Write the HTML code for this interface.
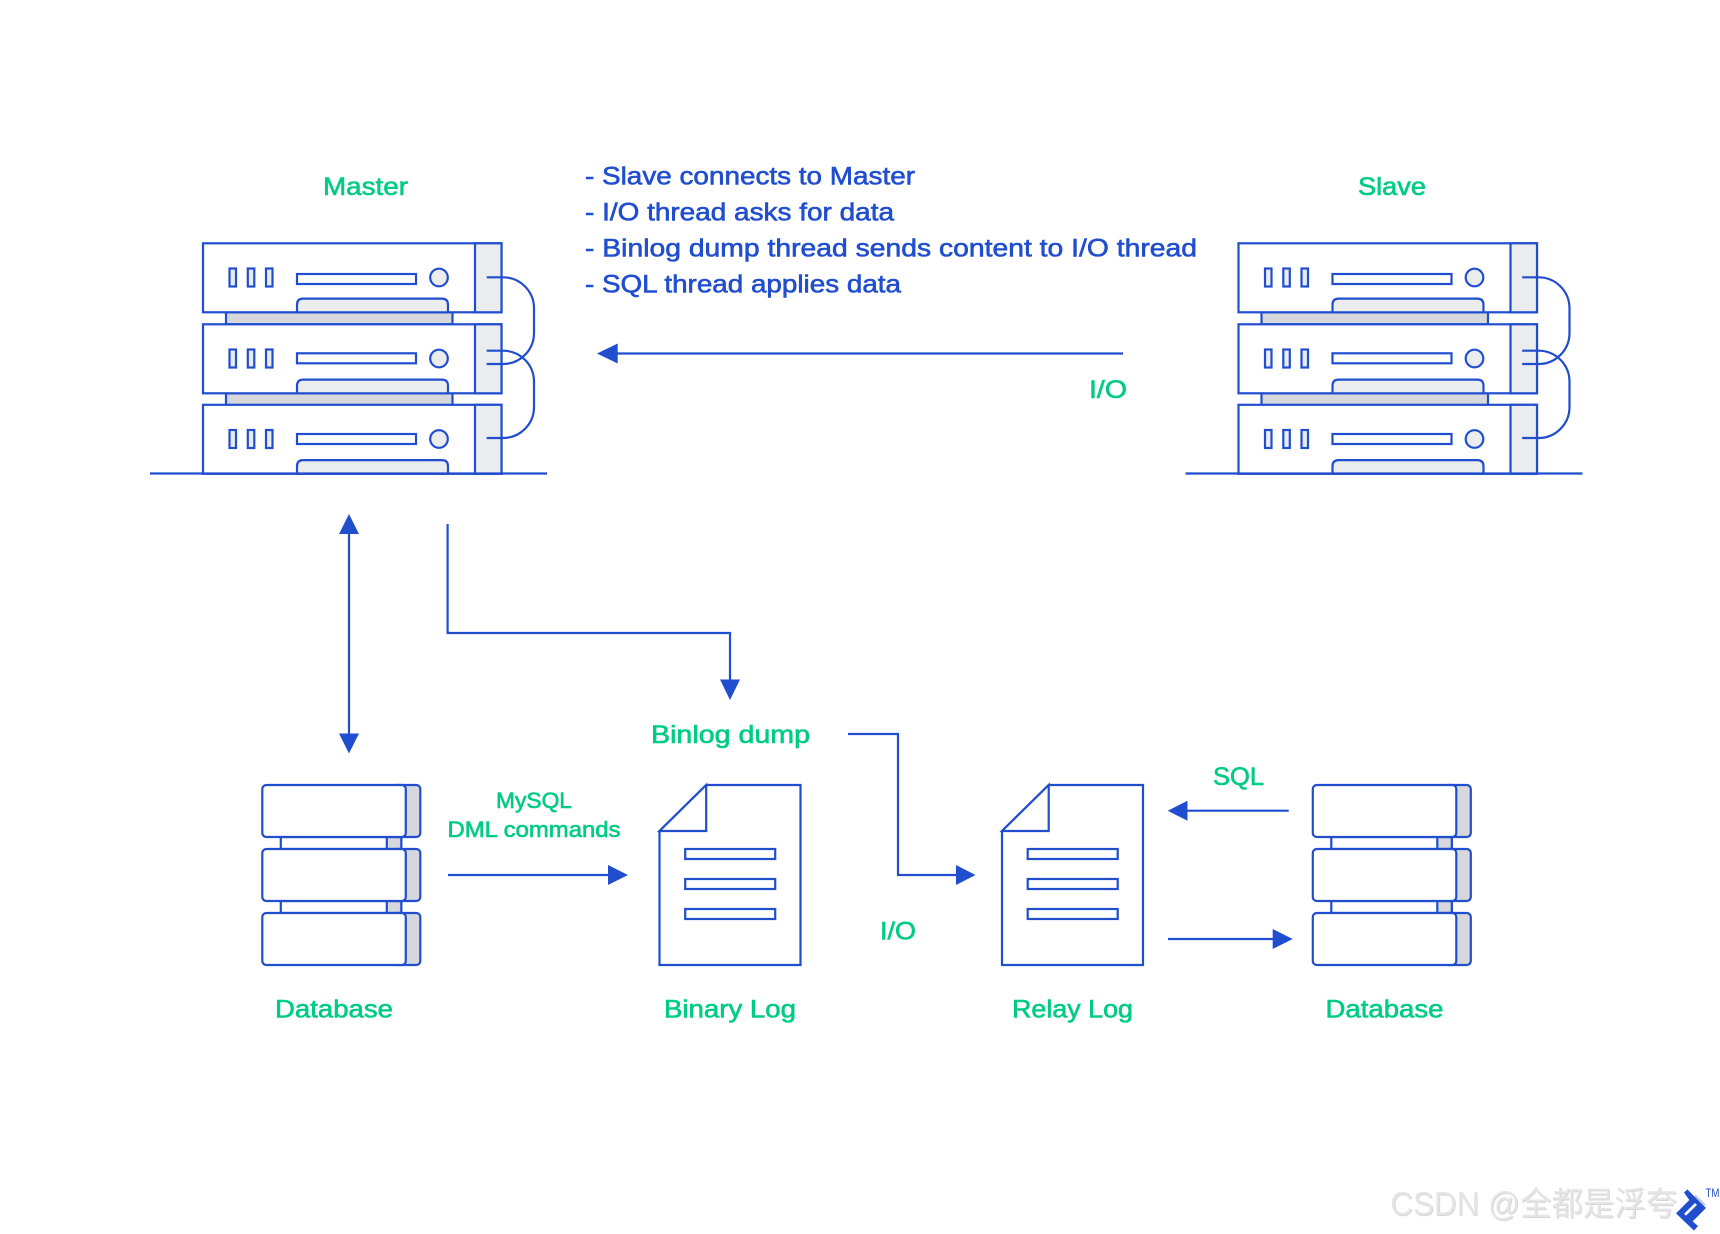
<!DOCTYPE html>
<html><head><meta charset="utf-8"><style>
html,body{margin:0;padding:0;background:#fff}
svg{display:block}
.l{fill:none;stroke:#204ecf;stroke-width:2.2}
.a{fill:#204ecf}
text{font-family:"Liberation Sans","Noto Sans CJK SC",sans-serif}
.g{fill:#00cc83;stroke:#00cc83;stroke-width:.6;font-size:25px}
.b{fill:#204ecf;stroke:#204ecf;stroke-width:.6;font-size:25px}
</style></head><body>
<svg width="1720" height="1234" viewBox="0 0 1720 1234" xmlns="http://www.w3.org/2000/svg">
<rect width="1720" height="1234" fill="#fff"/>
<defs>
<g id="srv">
<rect x="0" y="0" width="298.5" height="69" fill="#fff" class="l" style="fill:#fff"/>
<rect x="272" y="0" width="26.5" height="69" class="l" style="fill:#ebecee"/>
<rect x="26.5" y="25.2" width="6.5" height="18" class="l" style="fill:#ebecee"/>
<rect x="44.8" y="25.2" width="6.5" height="18" class="l" style="fill:#ebecee"/>
<rect x="63" y="25.2" width="6.5" height="18" class="l" style="fill:#ebecee"/>
<circle cx="236" cy="34.2" r="8.8" class="l" style="fill:#ebecee"/>
<path d="M94 69V61.5Q94 55.3 100 55.3H239Q245 55.3 245 61.5V69Z" class="l" style="fill:#ebecee"/>
</g>
<g id="rack">
<rect x="23" y="69" width="226.5" height="12" class="l" style="fill:#d6d8dc"/>
<rect x="23" y="150" width="226.5" height="12" class="l" style="fill:#d6d8dc"/>
<use href="#srv"/>
<use href="#srv" y="81"/>
<use href="#srv" y="161.5"/>
<rect x="94" y="30.7" width="119" height="10" class="l" style="fill:#fff"/>
<rect x="94" y="110" width="119" height="10" class="l" style="fill:#fff"/>
<rect x="94" y="190.7" width="119" height="10" class="l" style="fill:#fff"/>
<path d="M-53 230.2H344" class="l"/>
<path d="M283.7 34H300A31 31 0 0 1 331 65V89.7A31 31 0 0 1 300 120.7H283.7" class="l"/>
<path d="M283.7 107.4H300A31 31 0 0 1 331 138.4V163.7A31 31 0 0 1 300 194.7H283.7" class="l"/>
</g>
<g id="db">
<rect x="18.5" y="52" width="120.5" height="12" class="l" style="fill:#fff"/>
<rect x="124.5" y="52" width="14.5" height="12" class="l" style="fill:#d6d8dc"/>
<rect x="18.5" y="116" width="120.5" height="12" class="l" style="fill:#fff"/>
<rect x="124.5" y="116" width="14.5" height="12" class="l" style="fill:#d6d8dc"/>
<g id="dbu">
<rect x="130" y="0" width="28" height="52" rx="4" class="l" style="fill:#d6d8dc"/>
<rect x="0" y="0" width="143.5" height="52" rx="4" class="l" style="fill:#fff"/>
</g>
<use href="#dbu" y="64"/>
<use href="#dbu" y="128"/>
</g>
<g id="doc">
<path d="M46.7 0H141V180H0V46Z" class="l" style="fill:#fff"/>
<path d="M46.7 0V46H0Z" class="l" style="fill:#fff"/>
<rect x="25.7" y="64" width="90" height="10" class="l" style="fill:#fff"/>
<rect x="25.7" y="94" width="90" height="10" class="l" style="fill:#fff"/>
<rect x="25.7" y="124" width="90" height="10" class="l" style="fill:#fff"/>
</g>
</defs>

<use href="#rack" x="203" y="243.3"/>
<use href="#rack" x="1238.5" y="243.3"/>

<use href="#db" x="262.3" y="785"/>
<use href="#db" x="1312.8" y="785"/>
<use href="#doc" x="659.5" y="785"/>
<use href="#doc" x="1002" y="785"/>

<!-- connectors -->
<path d="M1123 353.5H612" class="l"/><path d="M597 353.5L617.7 343.5V363.5Z" class="a"/>
<path d="M349 530V738" class="l"/><path d="M349 514L339 534H359Z" class="a"/><path d="M349 753.5L339 733.5H359Z" class="a"/>
<path d="M447.6 524V633H730V685" class="l"/><path d="M730 700L720 679.5H740Z" class="a"/>
<path d="M848 734H898V875H960" class="l"/><path d="M975.5 875L956 865V885Z" class="a"/>
<path d="M448 875H612" class="l"/><path d="M628 875L608 865V885Z" class="a"/>
<path d="M1288.7 810.7H1183" class="l"/><path d="M1167.7 810.7L1187.5 800.7V820.7Z" class="a"/>
<path d="M1168 939H1277" class="l"/><path d="M1292.7 939L1272.7 929V949Z" class="a"/>

<!-- labels -->
<text class="g" x="323" y="195" textLength="85" lengthAdjust="spacingAndGlyphs">Master</text>
<text class="g" x="1358" y="195" textLength="68" lengthAdjust="spacingAndGlyphs">Slave</text>
<text class="g" x="1089" y="398" textLength="38" lengthAdjust="spacingAndGlyphs">I/O</text>
<text class="g" x="651" y="743" textLength="159" lengthAdjust="spacingAndGlyphs">Binlog dump</text>
<text class="g" x="275" y="1017.5" textLength="118" lengthAdjust="spacingAndGlyphs">Database</text>
<text class="g" x="664" y="1017.5" textLength="132" lengthAdjust="spacingAndGlyphs">Binary Log</text>
<text class="g" x="880" y="939.3" textLength="36" lengthAdjust="spacingAndGlyphs">I/O</text>
<text class="g" x="1012" y="1017.5" textLength="121" lengthAdjust="spacingAndGlyphs">Relay Log</text>
<text class="g" x="1213" y="785" textLength="51" lengthAdjust="spacingAndGlyphs">SQL</text>
<text class="g" x="1325.5" y="1017.5" textLength="118" lengthAdjust="spacingAndGlyphs">Database</text>
<text class="g" style="font-size:22px" x="496" y="808" textLength="76" lengthAdjust="spacingAndGlyphs">MySQL</text>
<text class="g" style="font-size:22px" x="447.5" y="837" textLength="173" lengthAdjust="spacingAndGlyphs">DML commands</text>

<text class="b" x="585" y="184.3" textLength="330" lengthAdjust="spacingAndGlyphs">- Slave connects to Master</text>
<text class="b" x="585" y="220.3" textLength="309" lengthAdjust="spacingAndGlyphs">- I/O thread asks for data</text>
<text class="b" x="585" y="256.3" textLength="612" lengthAdjust="spacingAndGlyphs">- Binlog dump thread sends content to I/O thread</text>
<text class="b" x="585" y="292.3" textLength="316" lengthAdjust="spacingAndGlyphs">- SQL thread applies data</text>

<!-- watermark -->
<text x="1391" y="1216" font-size="33" fill="#b0b0b0" fill-opacity=".5" textLength="287" lengthAdjust="spacingAndGlyphs">CSDN @全都是浮夸</text>
<text x="1390.2" y="1215.2" font-size="33" fill="#e6e6e6" fill-opacity=".9" textLength="287" lengthAdjust="spacingAndGlyphs">CSDN @全都是浮夸</text>
<!-- logo -->
<g transform="translate(1660,1180) scale(.3333)">
<path d="M72 38L82 28L138 84L98 124L114 138L102 152L48 100L88 60Z" fill="#204ecf"/>
<path d="M75 104L108 72" stroke="#fff" stroke-width="8" fill="none"/>
<path d="M105 47L135 75" stroke="#c3c8d4" stroke-width="6" fill="none"/>
</g>
<text x="1705.5" y="1197" font-size="11.5" fill="#204ecf" textLength="14" lengthAdjust="spacingAndGlyphs">TM</text>
</svg>
</body></html>
